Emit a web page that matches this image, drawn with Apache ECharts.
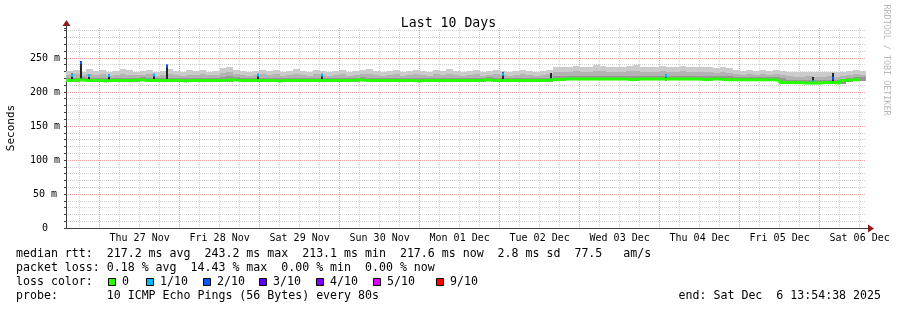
<!DOCTYPE html>
<html>
<head>
<meta charset="utf-8">
<title>Last 10 Days</title>
<script src="https://cdn.jsdelivr.net/npm/echarts@6/dist/echarts.min.js"></script>
<style>
  html, body { margin: 0; padding: 0; background: #fff; }
  #chart { width: 897px; height: 310px; }
</style>
</head>
<body>
<div id="chart"></div>
<script>
// hours relative to Thu 27 Nov 00:00; graph ends Sat Dec 6 13:54:38
const startHour = -10.0894
const endHour = 229.9106
const firstSample = -10
const sampleStep = 2

const dayLabels = ['Thu 27 Nov', 'Fri 28 Nov', 'Sat 29 Nov', 'Sun 30 Nov', 'Mon 01 Dec',
  'Tue 02 Dec', 'Wed 03 Dec', 'Thu 04 Dec', 'Fri 05 Dec', 'Sat 06 Dec']
const yTickLabels = [0, 50, 100, 150, 200, 250]

// median rtt (ms), one value per 2 h
const median = [
  217, 217, 218, 217, 217, 217, 216, 217, 217, 217,
  217, 218, 217, 217, 217, 217, 217, 217, 216, 217,
  217, 217, 217, 217, 217, 218, 217, 217, 217, 217,
  217, 217, 216, 217, 217, 217, 217, 217, 217, 217,
  217, 217, 217, 217, 218, 217, 217, 217, 217, 217,
  217, 217, 217, 216, 217, 217, 217, 217, 217, 217,
  217, 217, 217, 218, 217, 217, 217, 217, 217, 217,
  217, 217, 217, 218, 218, 219, 219, 219, 219, 219,
  219, 219, 219, 219, 219, 218, 219, 219, 219, 219,
  219, 219, 219, 219, 219, 219, 218, 219, 219, 218,
  218, 218, 218, 218, 218, 218, 218, 217, 214, 214,
  214, 213, 213, 213, 214, 214, 213, 217, 218, 218
]
// smoke: lowest ping
const smokeLow = [
  215, 215, 216, 215, 215, 215, 214, 215, 215, 215,
  215, 216, 215, 215, 215, 215, 215, 215, 214, 215,
  215, 215, 215, 215, 215, 216, 215, 215, 215, 215,
  215, 215, 214, 215, 215, 215, 215, 215, 215, 215,
  215, 215, 215, 215, 216, 215, 215, 215, 215, 215,
  215, 215, 215, 214, 215, 215, 215, 215, 215, 215,
  215, 215, 215, 216, 215, 215, 215, 215, 215, 215,
  215, 215, 215, 216, 216, 217, 217, 217, 217, 217,
  217, 217, 217, 217, 217, 216, 217, 217, 217, 217,
  217, 217, 217, 217, 217, 217, 216, 217, 217, 216,
  216, 216, 216, 216, 216, 216, 216, 215, 212, 212,
  212, 211, 211, 211, 212, 212, 211, 215, 216, 216
]
// smoke: top of the dark inner band
const smokeDark = [
  221, 221, 222, 221, 221, 221, 220, 221, 221, 221,
  221, 222, 221, 221, 221, 221, 221, 221, 220, 221,
  221, 221, 221, 222, 223, 222, 221, 221, 221, 221,
  221, 221, 220, 221, 221, 221, 221, 221, 221, 221,
  221, 221, 221, 221, 222, 221, 221, 221, 221, 221,
  221, 221, 221, 220, 221, 221, 221, 221, 221, 221,
  221, 221, 221, 222, 221, 221, 221, 221, 221, 221,
  221, 221, 221, 223, 224, 224, 224, 224, 224, 224,
  224, 224, 224, 224, 224, 223, 224, 224, 224, 224,
  224, 224, 224, 224, 224, 224, 223, 224, 224, 223,
  222, 222, 222, 222, 222, 222, 222, 221, 218, 218,
  218, 217, 217, 217, 218, 218, 217, 221, 222, 222
]
// smoke: top of the middle band
const smokeMid = [
  225, 226, 225, 226, 225, 226, 224, 225, 226, 225,
  225, 225, 226, 224, 225, 226, 225, 224, 225, 225,
  226, 225, 225, 228, 229, 226, 225, 224, 225, 226,
  225, 226, 224, 225, 226, 225, 224, 226, 225, 224,
  225, 226, 224, 225, 226, 226, 225, 224, 225, 226,
  224, 225, 226, 225, 224, 226, 225, 226, 225, 224,
  225, 226, 224, 225, 226, 225, 224, 225, 226, 225,
  224, 225, 226, 229, 230, 229, 231, 230, 229, 231,
  231, 230, 229, 230, 231, 231, 230, 229, 230, 231,
  230, 229, 231, 230, 229, 230, 229, 228, 229, 228,
  226, 225, 226, 225, 226, 225, 226, 225, 223, 222,
  222, 223, 222, 222, 223, 222, 223, 225, 226, 225
]
// smoke: highest ping
const smokeHigh = [
  231, 232, 230, 233, 231, 232, 230, 231, 233, 232,
  230, 231, 232, 230, 231, 233, 231, 230, 232, 231,
  232, 230, 231, 235, 236, 232, 231, 230, 231, 232,
  231, 232, 230, 231, 233, 231, 230, 232, 231, 230,
  231, 232, 230, 231, 232, 233, 231, 230, 231, 232,
  230, 231, 232, 231, 230, 232, 231, 233, 231, 230,
  231, 232, 230, 231, 232, 231, 230, 231, 232, 231,
  230, 231, 232, 236, 237, 236, 238, 237, 236, 239,
  238, 237, 236, 237, 238, 239, 237, 236, 237, 238,
  237, 236, 238, 237, 236, 237, 236, 235, 236, 235,
  232, 231, 232, 231, 232, 231, 232, 231, 230, 229,
  229, 230, 229, 229, 230, 229, 230, 231, 232, 231
]
// samples with packet loss: [hour, smoke low, smoke high, median, loss class]
const lossSamples = [
  [-8.4, 216, 227, 224, 1],
  [-5.7, 216, 245, 243, 2],
  [-3.2, 216, 226, 224, 1],
  [2.8, 216, 226, 224, 1],
  [16.3, 216, 226, 225, 1],
  [20.1, 216, 240, 238, 2],
  [47.5, 216, 226, 225, 1],
  [66.7, 216, 226, 225, 1],
  [121.0, 216, 229, 226, 1],
  [135.4, 217, 228, 218, 1],
  [169.9, 217, 225, 224, 1],
  [214.0, 212, 222, 215, 1],
  [219.9, 212, 228, 220, 2]
]
const lossColors = ['#26ff00', '#00b8ff', '#0059ff', '#5e00ff', '#7e00ff', '#dd00ff', '#ff0000']
const lossNames = ['0', '1/10', '2/10', '3/10', '4/10', '5/10', '9/10']

const mono = '"DejaVu Sans Mono", "Liberation Mono", monospace'
const gridGray = '#d2d2d2'
const gridRed = '#eea0a0'
const axisColor = '#404040'
const arrowColor = '#8b1c1c'
const smokeColors = ['#979797', '#b3b3b3', '#cbcbcb']

const hours = median.map((_, i) => firstSample + i * sampleStep)
const smokeRows = hours.map((h, i) => [h, smokeLow[i], smokeDark[i], smokeMid[i], smokeHigh[i]])
const medianRows = hours.map((h, i) => [h, median[i]])

const minorHours = []
for (let h = -6; h <= endHour; h += 6) minorHours.push(h)
const dayHours = dayLabels.map((_, i) => i * 24)
const labelHours = dayLabels.map((_, i) => 12 + i * 24)

const chart = echarts.init(document.getElementById('chart'), null, { renderer: 'canvas' })

const legendLines = [
  { text: 'median rtt:  217.2 ms avg  243.2 ms max  213.1 ms min  217.6 ms now  2.8 ms sd  77.5   am/s', y: 254 },
  { text: 'packet loss: 0.18 % avg  14.43 % max  0.00 % min  0.00 % now', y: 268 },
  { text: 'loss color:', y: 282 },
  { text: 'probe:       10 ICMP Echo Pings (56 Bytes) every 80s', y: 296 }
]
const boxX = [108, 146, 203, 259, 316, 373, 436]
const boxTextX = [122, 160, 217, 273, 330, 387, 450]

const graphics = []
legendLines.forEach((line) => {
  graphics.push({ type: 'text', x: 16, y: line.y, silent: true,
    style: { text: line.text, font: '11.6px ' + mono, fill: '#000', textVerticalAlign: 'middle' } })
})
lossNames.forEach((name, i) => {
  graphics.push({ type: 'rect', silent: true, shape: { x: boxX[i] + 0.5, y: 278.5, width: 7, height: 7 },
    style: { fill: lossColors[i], stroke: '#000', lineWidth: 1 } })
  graphics.push({ type: 'text', x: boxTextX[i], y: 282, silent: true,
    style: { text: name, font: '11.6px ' + mono, fill: '#000', textVerticalAlign: 'middle' } })
})
graphics.push({ type: 'text', x: 881, y: 296, silent: true,
  style: { text: 'end: Sat Dec  6 13:54:38 2025', font: '11.6px ' + mono, fill: '#000', textAlign: 'right', textVerticalAlign: 'middle' } })
graphics.push({ type: 'text', x: 886, y: 60, rotation: -Math.PI / 2, silent: true,
  style: { text: 'RRDTOOL / TOBI OETIKER', font: '8.4px ' + mono, fill: '#b8b8b8', textAlign: 'center', textVerticalAlign: 'middle' } })
// axis extensions and arrows
graphics.push({ type: 'line', silent: true, shape: { x1: 66.5, y1: 28, x2: 66.5, y2: 23 }, style: { stroke: axisColor, lineWidth: 1 } })
graphics.push({ type: 'line', silent: true, shape: { x1: 866, y1: 228.5, x2: 869, y2: 228.5 }, style: { stroke: axisColor, lineWidth: 1 } })
graphics.push({ type: 'polygon', silent: true, shape: { points: [[62.5, 26], [70.5, 26], [66.5, 20]] }, style: { fill: arrowColor } })
graphics.push({ type: 'polygon', silent: true, shape: { points: [[868, 224.5], [868, 232.5], [874, 228.5]] }, style: { fill: arrowColor } })

const gridLine = (color) => ({ show: true, lineStyle: { color, type: [1, 1], width: 1 } })

chart.setOption({
  animation: false,
  backgroundColor: '#fff',
  title: {
    text: 'Last 10 Days',
    left: 'center',
    top: 12,
    textStyle: { fontFamily: mono, fontSize: 13.2, fontWeight: 'normal', color: '#000' }
  },
  grid: { left: 66, right: 31, top: 28, bottom: 82, containLabel: false, outerBoundsMode: 'none' },
  xAxis: [
    {
      type: 'value',
      position: 'bottom',
      min: startHour,
      max: endHour,
      axisLine: { show: false },
      axisTick: { show: false, customValues: minorHours },
      axisLabel: { show: false },
      splitLine: gridLine(gridGray)
    },
    {
      type: 'value',
      position: 'bottom',
      min: startHour,
      max: endHour,
      axisLine: { onZero: false, lineStyle: { color: axisColor, width: 1 } },
      axisTick: { show: false, customValues: dayHours },
      axisLabel: {
        customValues: labelHours,
        formatter: (v) => dayLabels[Math.round((v - 12) / 24)] || '',
        fontFamily: mono,
        fontSize: 10,
        color: '#000',
        margin: 5
      },
      splitLine: gridLine(gridRed)
    }
  ],
  yAxis: [
    {
      type: 'value',
      position: 'left',
      min: 0,
      max: 294,
      interval: 10,
      name: 'Seconds',
      nameLocation: 'middle',
      nameRotate: 90,
      nameGap: 49,
      nameTextStyle: { fontFamily: mono, fontSize: 11, color: '#000' },
      axisLine: { show: true, onZero: false, lineStyle: { color: axisColor, width: 1 } },
      axisTick: { show: true, length: 2, lineStyle: { color: axisColor } },
      axisLabel: {
        customValues: yTickLabels,
        formatter: (v) => (v === 0 ? '0' : v + ' m'),
        fontFamily: mono,
        fontSize: 10,
        color: '#000',
        align: 'center',
        margin: 21
      },
      splitLine: { ...gridLine(gridGray), showMaxLine: false }
    },
    {
      type: 'value',
      position: 'left',
      min: 0,
      max: 294,
      interval: 50,
      axisLine: { show: false },
      axisTick: { show: false },
      axisLabel: { show: false },
      splitLine: { ...gridLine(gridRed), showMaxLine: false }
    }
  ],
  graphic: graphics,
  series: [
    {
      name: 'smoke',
      type: 'custom',
      silent: true,
      clip: true,
      xAxisIndex: 1,
      data: smokeRows,
      renderItem: (params, api) => {
        const h = api.value(0)
        const x0 = Math.round(api.coord([h, 0])[0])
        const x1 = Math.round(api.coord([h + sampleStep, 0])[0])
        const children = []
        for (let b = 0; b < 3; b++) {
          const yLow = Math.round(api.coord([h, api.value(1 + b)])[1])
          const yHigh = Math.round(api.coord([h, api.value(2 + b)])[1])
          children.push({
            type: 'rect',
            shape: { x: x0, y: yHigh, width: x1 - x0, height: yLow - yHigh },
            style: { fill: smokeColors[b] }
          })
        }
        return { type: 'group', children }
      }
    },
    {
      name: 'median',
      type: 'line',
      xAxisIndex: 1,
      step: 'start',
      symbol: 'none',
      silent: true,
      lineStyle: { color: lossColors[0], width: 3 },
      data: medianRows
    },
    {
      name: 'loss',
      type: 'custom',
      silent: true,
      xAxisIndex: 1,
      data: lossSamples,
      renderItem: (params, api) => {
        const low = api.coord([api.value(0), api.value(1)])
        const high = api.coord([api.value(0), api.value(2)])
        const med = api.coord([api.value(0), api.value(3)])
        return {
          type: 'group',
          children: [
            { type: 'rect', shape: { x: Math.round(low[0]) - 1, y: high[1], width: 2, height: low[1] - high[1] }, style: { fill: '#262626' } },
            { type: 'rect', shape: { x: Math.round(med[0]) - 1, y: med[1] - 1.5, width: 2, height: 3 }, style: { fill: lossColors[api.value(4)] } }
          ]
        }
      }
    }
  ]
})
</script>
</body>
</html>
